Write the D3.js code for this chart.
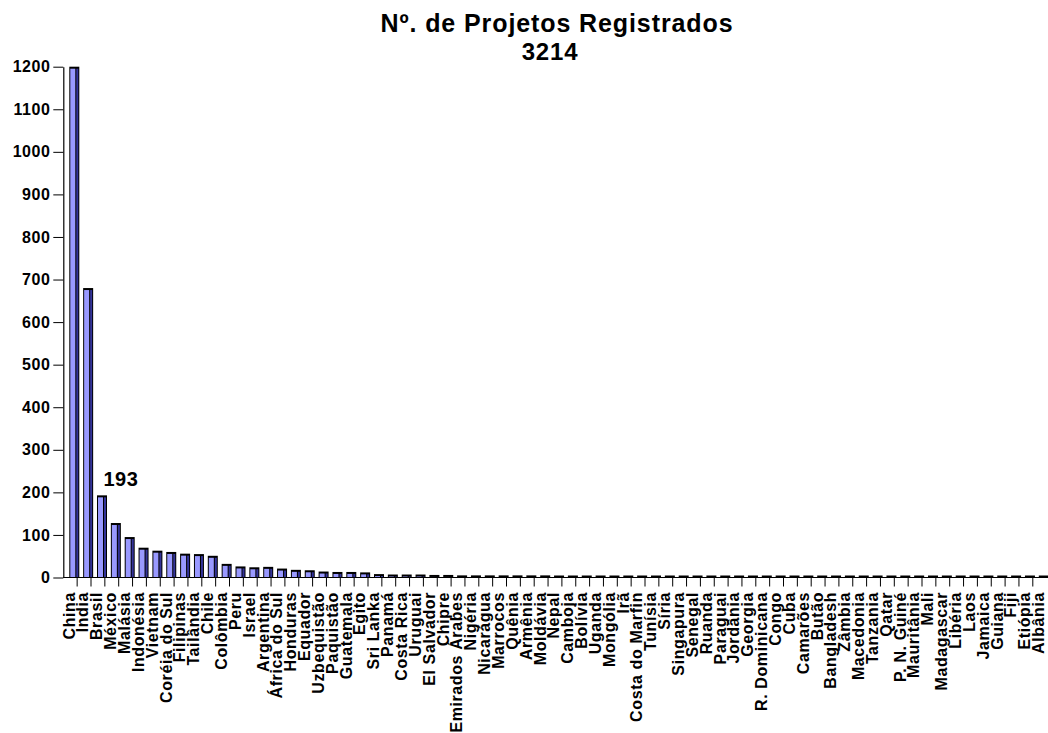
<!DOCTYPE html>
<meta charset="utf-8">
<style>
body { margin: 0; background: #fff; }
svg { display: block; font-family: "Liberation Sans", Arial, sans-serif; font-weight: bold; }
.axis line, .axis path { stroke: #000; }
</style>
<svg width="1048" height="733"></svg>
<script src="https://d3js.org/d3.v7.min.js"></script>
<script>

var paises = ["China", "India", "Brasil", "México", "Malásia", "Indonésia", "Vietnam",
  "Coréia do Sul", "Filipinas", "Tailândia", "Chile", "Colômbia", "Peru", "Israel",
  "Argentina", "África do Sul", "Honduras", "Equador", "Uzbequistão", "Paquistão",
  "Guatemala", "Egito", "Sri Lanka", "Panamá", "Costa Rica", "Uruguai", "El Salvador",
  "Chipre", "Emirados Árabes", "Nigéria", "Nicarágua", "Marrocos", "Quênia", "Armênia",
  "Moldávia", "Nepal", "Camboja", "Bolívia", "Uganda", "Mongólia", "Irã",
  "Costa do Marfin", "Tunísia", "Síria", "Singapura", "Senegal", "Ruanda", "Paraguai",
  "Jordânia", "Georgia", "R. Dominicana", "Congo", "Cuba", "Camarões", "Butão",
  "Bangladesh", "Zâmbia", "Macedonia", "Tanzania", "Qatar", "P. N. Guiné", "Mauritânia",
  "Mali", "Madagascar", "Libéria", "Laos", "Jamaica", "Guiana", "Fiji", "Etiópia", "Albânia"];

// China passa do topo do eixo (1200) e fica cortada
var projetos = [1394, 680, 193, 128, 95, 70, 63,
  60, 56, 55, 51, 32, 26, 24,
  25, 21, 18, 17, 14, 13,
  13, 12, 8, 7, 7, 7, 6,
  6, 5, 5, 5, 5, 5, 5,
  5, 4, 4, 4, 4, 4, 4,
  3, 3, 3, 3, 3, 3, 3,
  3, 3, 2, 2, 2, 2, 2,
  2, 1, 1, 1, 1, 1, 1,
  1, 1, 1, 1, 1, 1, 1, 1, 1];

var yTicks = [0, 100, 200, 300, 400, 500, 600, 700, 800, 900, 1000, 1100, 1200];
var titulo = ["Nº. de Projetos Registrados", "3214"];
var destaque = { pais: "Brasil", texto: "193" };

var svg = d3.select("svg");
var x0 = 63.3, step = 13.85, y0 = 577.5, yTop = 66.7;

var x = d3.scaleBand()
    .domain(paises)
    .range([x0, x0 + paises.length * step])
    .paddingInner(0).paddingOuter(0);

var y = d3.scaleLinear()
    .domain([0, 1200])
    .range([y0, yTop])
    .clamp(true);

var dados = paises.map(function(p, i) { return { pais: p, valor: projetos[i] }; });

// barras (efeito 3D simples)
var barra = svg.append("g").selectAll("g")
    .data(dados)
  .join("g")
    .attr("transform", function(d) { return "translate(" + (x(d.pais) + 6) + ",0)"; });

barra.append("rect")
    .attr("x", 0)
    .attr("width", 10)
    .attr("y", function(d) { return Math.min(y(d.valor), y0 - 2); })
    .attr("height", function(d) { return y0 - Math.min(y(d.valor), y0 - 2); })
    .attr("fill", "#000");

barra.append("rect")
    .attr("x", 1)
    .attr("width", 5)
    .attr("y", function(d) { return y(d.valor) + 2; })
    .attr("height", function(d) { return Math.max(0, y0 - y(d.valor) - 2); })
    .attr("fill", "#9999ff");

barra.append("rect")
    .attr("x", 7)
    .attr("width", 2)
    .attr("y", function(d) { return y(d.valor) + 2; })
    .attr("height", function(d) { return Math.max(0, y0 - y(d.valor) - 2); })
    .attr("fill", "#333399");

// eixo y
var yAxis = svg.append("g")
    .attr("class", "axis")
    .attr("transform", "translate(" + x0 + ",0)")
    .call(d3.axisLeft(y).tickValues(yTicks).tickFormat(d3.format("d"))
      .tickSize(10).tickPadding(3).tickSizeOuter(0));
yAxis.select(".domain").attr("stroke-width", 1.2);
yAxis.selectAll("text")
    .attr("font-size", 16)
    .attr("letter-spacing", "0.5px")
    .attr("font-family", "Liberation Sans, Arial, sans-serif")
    .attr("font-weight", "bold")
    .attr("fill", "#000");

// eixo x
svg.append("line")
    .attr("x1", x0).attr("x2", 1048)
    .attr("y1", y0).attr("y2", y0)
    .attr("stroke", "#000").attr("stroke-width", 1.2);

svg.append("g").selectAll("line")
    .data(paises.slice(1))
  .join("line")
    .attr("x1", function(d) { return x(d); })
    .attr("x2", function(d) { return x(d); })
    .attr("y1", y0).attr("y2", y0 + 9)
    .attr("stroke", "#000");

svg.append("g").selectAll("text")
    .data(paises)
  .join("text")
    .attr("transform", function(d) {
      return "translate(" + (x(d) + x.bandwidth() / 2 - 1.2) + ",592) rotate(-90)";
    })
    .attr("text-anchor", "end")
    .attr("dy", "0.35em")
    .attr("font-size", 16)
    .attr("letter-spacing", "0.6px")
    .text(function(d) { return d; });

// rótulo do Brasil
var iB = paises.indexOf(destaque.pais);
svg.append("text")
    .attr("x", x(destaque.pais) + x.bandwidth() / 2 + 23)
    .attr("y", y(projetos[iB]) - 9)
    .attr("text-anchor", "middle")
    .attr("font-size", 20)
    .attr("letter-spacing", "0.5px")
    .text(destaque.texto);

// título
svg.append("text")
    .attr("x", 557).attr("y", 31.5)
    .attr("text-anchor", "middle")
    .attr("font-size", 25)
    .attr("letter-spacing", "0.9px")
    .text(titulo[0]);
svg.append("text")
    .attr("x", 550).attr("y", 60)
    .attr("text-anchor", "middle")
    .attr("font-size", 24)
    .attr("letter-spacing", "0.8px")
    .text(titulo[1]);

</script>
